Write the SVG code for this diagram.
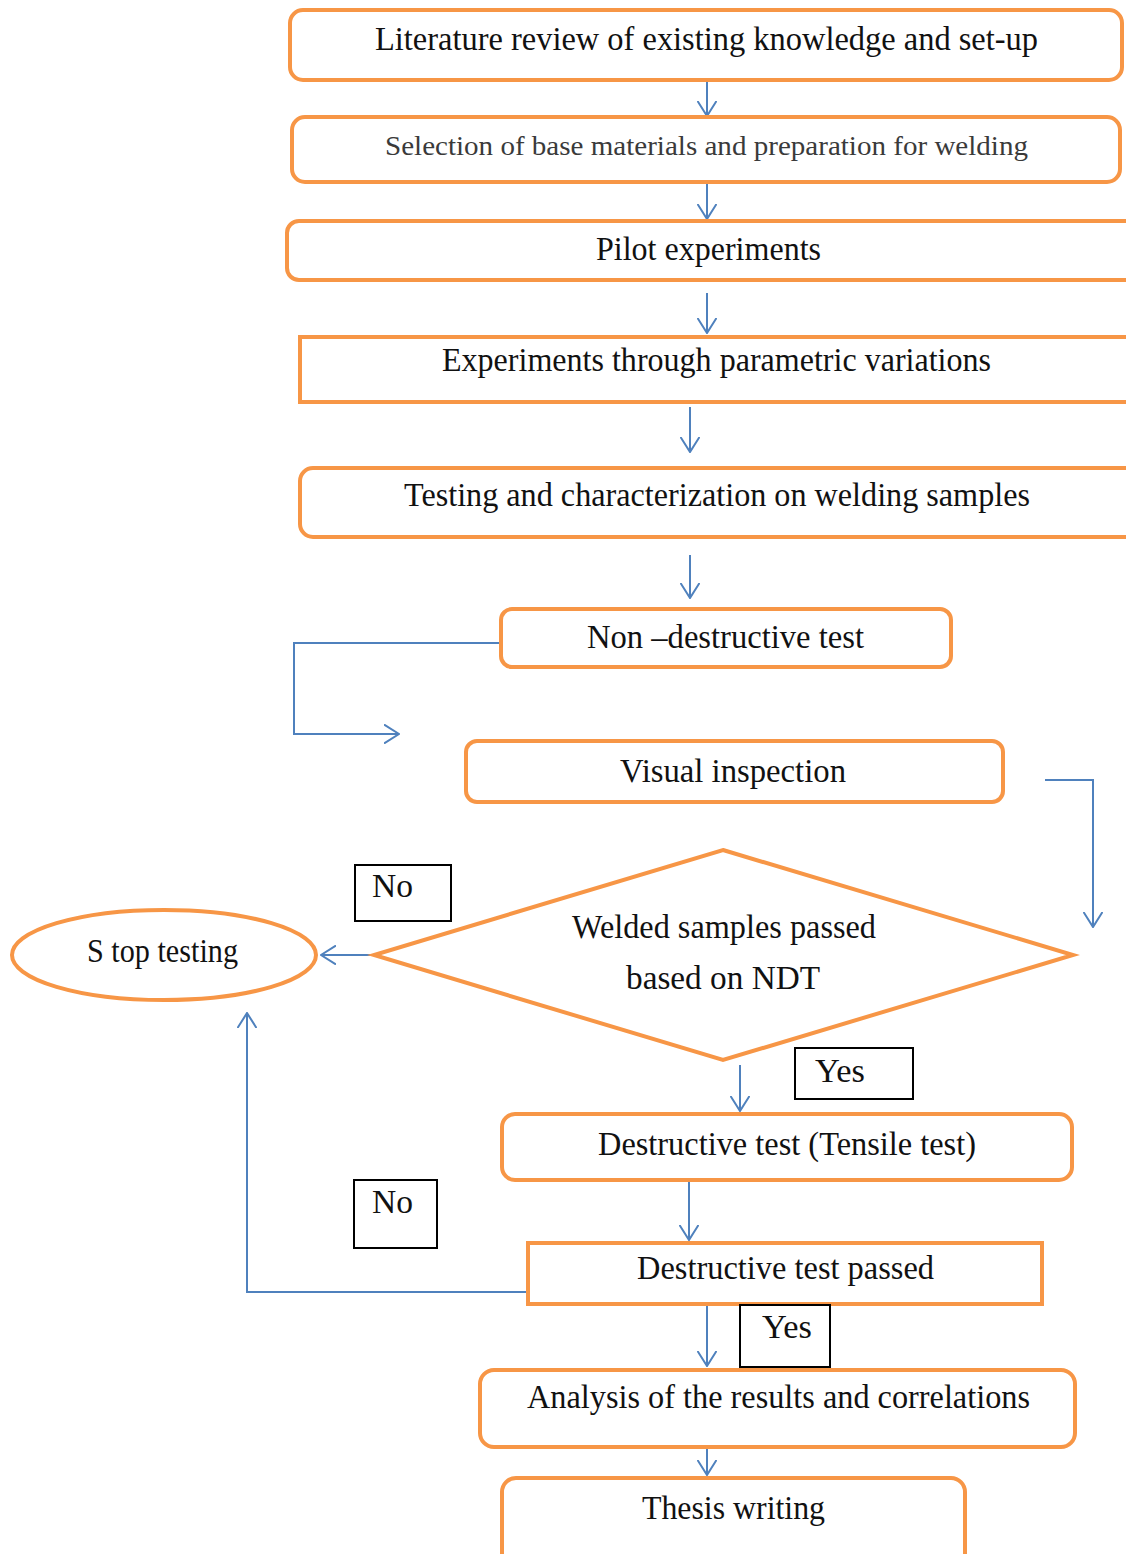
<svg xmlns="http://www.w3.org/2000/svg" width="1126" height="1554" viewBox="0 0 1126 1554">
<defs>
<style>
.box{fill:#fff;stroke:#F79646;stroke-width:4}
.lbl{fill:#fff;stroke:#000;stroke-width:2}
.t{font-family:"Liberation Serif","Times New Roman",serif;font-size:34px;fill:#111;text-anchor:start}
.s{font-size:27px;fill:#3a3a3a}
.c{fill:none;stroke:#4F81BD;stroke-width:2}
</style>
<marker id="ah" viewBox="0 0 16 20" refX="15" refY="10" markerWidth="16" markerHeight="20" markerUnits="userSpaceOnUse" orient="auto">
<path d="M0,0.5 L15,10 L0,19.5" fill="none" stroke="#4F81BD" stroke-width="2"/>
</marker>
</defs>
<rect width="1126" height="1554" fill="#fff"/>

<g id="connectors">
<path class="c" d="M707,80 V116" marker-end="url(#ah)"/>
<path class="c" d="M707,183 V219" marker-end="url(#ah)"/>
<path class="c" d="M707,293 V333" marker-end="url(#ah)"/>
<path class="c" d="M690,407 V452" marker-end="url(#ah)"/>
<path class="c" d="M690,555 V598" marker-end="url(#ah)"/>
<path class="c" d="M501,643 H294 V734 H399" marker-end="url(#ah)"/>
<path class="c" d="M1045,780 H1093 V927" marker-end="url(#ah)"/>
<path class="c" d="M374,955 H321" marker-end="url(#ah)"/>
<path class="c" d="M740,1065 V1111" marker-end="url(#ah)"/>
<path class="c" d="M689,1182 V1240" marker-end="url(#ah)"/>
<path class="c" d="M532,1300 V1292 H247 V1013" marker-end="url(#ah)"/>
<path class="c" d="M707,1306 V1366" marker-end="url(#ah)"/>
<path class="c" d="M707,1436 V1475" marker-end="url(#ah)"/>
</g>

<g id="n1"><rect class="box" x="290" y="10" width="832" height="70" rx="13"/>
<text class="t" x="375" y="50" textLength="663" lengthAdjust="spacingAndGlyphs">Literature review of existing knowledge and set-up</text></g>

<g id="n2"><rect class="box" x="292" y="117" width="828" height="65" rx="13"/>
<text class="t s" x="385" y="155" textLength="643" lengthAdjust="spacingAndGlyphs">Selection of base materials and preparation  for welding</text></g>

<g id="n3"><rect class="box" x="287" y="221" width="860" height="59" rx="12"/>
<text class="t" x="596" y="260" textLength="225" lengthAdjust="spacingAndGlyphs">Pilot experiments</text></g>

<g id="n4"><rect class="box" x="300" y="337" width="850" height="65"/>
<text class="t" x="442" y="371" textLength="549" lengthAdjust="spacingAndGlyphs">Experiments through parametric variations</text></g>

<g id="n5"><rect class="box" x="300" y="468" width="850" height="69" rx="13"/>
<text class="t" x="404" y="506" textLength="626" lengthAdjust="spacingAndGlyphs">Testing and characterization on welding samples</text></g>

<g id="n6"><rect class="box" x="501" y="609" width="450" height="58" rx="11"/>
<text class="t" x="587" y="648" textLength="277" lengthAdjust="spacingAndGlyphs">Non –destructive test</text></g>

<g id="n7"><rect class="box" x="466" y="741" width="537" height="61" rx="11"/>
<text class="t" x="620" y="782" textLength="226" lengthAdjust="spacingAndGlyphs">Visual inspection</text></g>

<g id="n8"><polygon class="box" points="723,850 1073,955 723,1060 374,955"/>
<text class="t" x="572" y="938" textLength="304" lengthAdjust="spacingAndGlyphs">Welded samples passed</text>
<text class="t" x="626" y="989" textLength="194" lengthAdjust="spacingAndGlyphs">based on NDT</text></g>

<g id="n9"><ellipse class="box" cx="164" cy="955" rx="152" ry="45"/>
<text class="t" x="87" y="962" textLength="151" lengthAdjust="spacingAndGlyphs">S top testing</text></g>

<g id="l1"><rect class="lbl" x="355" y="865" width="96" height="56"/>
<text class="t" x="372" y="897" textLength="41" lengthAdjust="spacingAndGlyphs">No</text></g>

<g id="l2"><rect class="lbl" x="795" y="1048" width="118" height="51"/>
<text class="t" x="815" y="1082" textLength="50" lengthAdjust="spacingAndGlyphs">Yes</text></g>

<g id="n10"><rect class="box" x="502" y="1114" width="570" height="66" rx="13"/>
<text class="t" x="598" y="1155" textLength="378" lengthAdjust="spacingAndGlyphs">Destructive test (Tensile test)</text></g>

<g id="n11"><rect class="box" x="528" y="1243" width="514" height="61"/>
<text class="t" x="637" y="1279" textLength="297" lengthAdjust="spacingAndGlyphs">Destructive test passed</text></g>

<g id="l3"><rect class="lbl" x="354" y="1180" width="83" height="68"/>
<text class="t" x="372" y="1213" textLength="41" lengthAdjust="spacingAndGlyphs">No</text></g>

<g id="l4"><rect class="lbl" x="740" y="1305" width="90" height="62"/>
<text class="t" x="762" y="1338" textLength="50" lengthAdjust="spacingAndGlyphs">Yes</text></g>

<g id="n12"><rect class="box" x="480" y="1370" width="595" height="77" rx="14"/>
<text class="t" x="527" y="1408" textLength="503" lengthAdjust="spacingAndGlyphs">Analysis of the results and correlations</text></g>

<g id="n13"><rect class="box" x="502" y="1478" width="463" height="100" rx="14"/>
<text class="t" x="642" y="1519" textLength="183" lengthAdjust="spacingAndGlyphs">Thesis writing</text></g>
</svg>
